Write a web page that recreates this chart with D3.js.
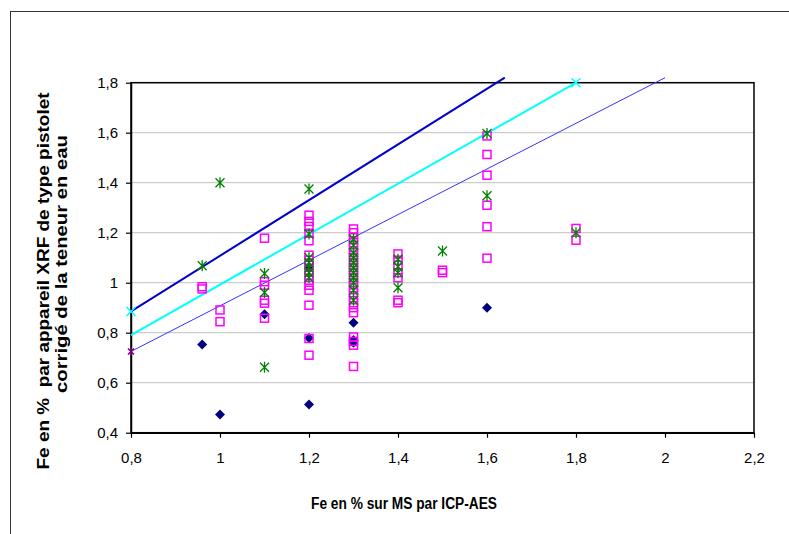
<!DOCTYPE html>
<html>
<head>
<meta charset="utf-8">
<script src="https://cdn.jsdelivr.net/npm/d3@7"></script>
<style>
    body { margin: 0; background: #fff; }
    svg { display: block; }
</style>
</head>
<body>
<div id="chart"></div>
<script>
// axis ticks
var xTicks = [0.8, 1, 1.2, 1.4, 1.6, 1.8, 2, 2.2];
var yTicks = [0.4, 0.6, 0.8, 1, 1.2, 1.4, 1.6, 1.8];

// navy diamonds
var diamondX = [0.96, 1.0, 1.1, 1.2, 1.2, 1.2, 1.3, 1.3, 1.3, 1.6];
var diamondY = [0.753, 0.473, 0.874, 0.779, 0.513, 1.06, 0.84, 0.771, 0.76, 0.90];

// magenta squares
var squareX = [0.96, 0.96, 1.0, 1.0,
    1.1, 1.1, 1.1, 1.1, 1.1, 1.1,
    1.2, 1.2, 1.2, 1.2, 1.2, 1.2, 1.2, 1.2, 1.2, 1.2, 1.2, 1.2, 1.2, 1.2, 1.2, 1.2,
    1.3, 1.3, 1.3, 1.3, 1.3, 1.3, 1.3, 1.3, 1.3, 1.3, 1.3, 1.3, 1.3, 1.3, 1.3, 1.3, 1.3, 1.3, 1.3, 1.3, 1.3, 1.3,
    1.4, 1.4, 1.4, 1.4, 1.4, 1.4, 1.4,
    1.5, 1.5,
    1.6, 1.6, 1.6, 1.6, 1.6, 1.6,
    1.8, 1.8];
var squareY = [0.984, 0.975, 0.891, 0.844,
    1.178, 1.004, 0.99, 0.93, 0.918, 0.858,
    1.27, 1.245, 1.225, 1.198, 1.168, 1.11, 1.09, 1.07, 1.05, 1.03, 1.01, 0.99, 0.97, 0.91, 0.777, 0.71,
    1.215, 1.20, 1.18, 1.16, 1.14, 1.12, 1.10, 1.08, 1.06, 1.04, 1.02, 1.00, 0.98, 0.96, 0.94, 0.92, 0.90, 0.88, 0.783, 0.765, 0.75, 0.665,
    1.115, 1.09, 1.07, 1.04, 1.02, 0.93, 0.92,
    1.05, 1.04,
    1.587, 1.513, 1.43, 1.31, 1.224, 1.098,
    1.217, 1.17];

// green asterisks
var starX = [0.96, 1.0, 1.1, 1.1, 1.1,
    1.2, 1.2, 1.2, 1.2, 1.2, 1.2, 1.2,
    1.3, 1.3, 1.3, 1.3, 1.3, 1.3, 1.3, 1.3, 1.3, 1.3, 1.3,
    1.4, 1.4, 1.4, 1.4,
    1.5, 1.6, 1.6, 1.8];
var starY = [1.068, 1.40, 1.037, 0.961, 0.662,
    1.375, 1.195, 1.10, 1.08, 1.06, 1.04, 1.02,
    1.175, 1.15, 1.12, 1.10, 1.08, 1.06, 1.04, 1.02, 1.00, 0.97, 0.93,
    1.094, 1.064, 1.04, 0.98,
    1.127, 1.597, 1.348, 1.20];

// reference lines
var upperX = [0.8, 1.64], upperY = [0.885, 1.82];
var diagX = [0.8, 1.8], diagY = [0.79, 1.8];
var lowerX = [0.8, 2.0], lowerY = [0.725, 1.82];
var crossX = [0.8, 1.8], crossY = [0.885, 1.8];
var purpleX = [0.8], purpleY = [0.725];

var width = 789, height = 534;
var plotLeft = 131, plotRight = 754, plotTop = 82.7, plotBottom = 432.7;

var svg = d3.select("#chart")
    .append("svg")
    .attr("width", width)
    .attr("height", height);

// chart frame (runs off the picture to the right and bottom)
svg.append("rect")
    .attr("x", 10.5)
    .attr("y", 11.5)
    .attr("width", 900)
    .attr("height", 700)
    .attr("fill", "none")
    .attr("stroke", "#333")
    .attr("stroke-width", 1);

var x = d3.scaleLinear().domain([0.8, 2.2]).range([plotLeft, plotRight]);
var y = d3.scaleLinear().domain([0.4, 1.8]).range([plotBottom, plotTop]);

var locale = d3.formatLocale({ decimal: ",", thousands: " ", grouping: [3], currency: ["", ""] });
var fmt = locale.format("~g");

// gridlines
svg.append("g")
    .selectAll("line")
    .data(yTicks.slice(1))
    .enter()
    .append("line")
    .attr("x1", plotLeft)
    .attr("x2", plotRight)
    .attr("y1", function (d) { return y(d); })
    .attr("y2", function (d) { return y(d); })
    .attr("stroke", "#c0c0c0")
    .attr("stroke-width", 1);

// plot border
svg.append("rect")
    .attr("x", plotLeft)
    .attr("y", plotTop)
    .attr("width", plotRight - plotLeft)
    .attr("height", plotBottom - plotTop)
    .attr("fill", "none")
    .attr("stroke", "#000")
    .attr("stroke-width", 1.5);

var xAxis = svg.append("g")
    .attr("transform", "translate(0," + plotBottom + ")")
    .call(d3.axisBottom(x).tickValues(xTicks).tickFormat(fmt).tickSize(5).tickSizeOuter(0).tickPadding(15));

var yAxis = svg.append("g")
    .attr("transform", "translate(" + plotLeft + ",0)")
    .call(d3.axisLeft(y).tickValues(yTicks).tickFormat(fmt).tickSize(5).tickSizeOuter(0).tickPadding(8));

[xAxis, yAxis].forEach(function (g) {
    g.select(".domain").attr("stroke", "#000").attr("stroke-width", 1.5);
    g.selectAll(".tick line").attr("stroke", "#000").attr("stroke-width", 1.2);
    g.selectAll(".tick text")
        .attr("fill", "#000")
        .attr("font-family", "Liberation Sans, Arial, sans-serif")
        .attr("font-size", 15);
});

// reference lines
function pairs(xs, ys) {
    return xs.map(function (v, i) { return [v, ys[i]]; });
}
var line = d3.line()
    .x(function (d) { return x(d[0]); })
    .y(function (d) { return y(d[1]); });

svg.append("path").datum(pairs(upperX, upperY))
    .attr("d", line).attr("fill", "none").attr("stroke", "#0000cc").attr("stroke-width", 2);
svg.append("path").datum(pairs(diagX, diagY))
    .attr("d", line).attr("fill", "none").attr("stroke", "#00ffff").attr("stroke-width", 2);
svg.append("path").datum(pairs(lowerX, lowerY))
    .attr("d", line).attr("fill", "none").attr("stroke", "#3333ff").attr("stroke-width", 1);

// marker shapes
function asterisk(s) {
    return "M" + (-s) + "," + (-s) + "L" + s + "," + s +
        "M" + (-s) + "," + s + "L" + s + "," + (-s) +
        "M0," + (-s - 1) + "L0," + (s + 1);
}
function cross(s) {
    return "M" + (-s) + "," + (-s) + "L" + s + "," + s +
        "M" + (-s) + "," + s + "L" + s + "," + (-s);
}
function diamond(s) {
    return "M0," + (-s) + "L" + s + ",0L0," + s + "L" + (-s) + ",0Z";
}

svg.append("g").selectAll("path")
    .data(pairs(diamondX, diamondY))
    .enter()
    .append("path")
    .attr("transform", function (d) { return "translate(" + x(d[0]) + "," + y(d[1]) + ")"; })
    .attr("d", diamond(5))
    .attr("fill", "#000080");

svg.append("g").selectAll("rect")
    .data(pairs(squareX, squareY))
    .enter()
    .append("rect")
    .attr("x", function (d) { return x(d[0]) - 4; })
    .attr("y", function (d) { return y(d[1]) - 4; })
    .attr("width", 8)
    .attr("height", 8)
    .attr("fill", "none")
    .attr("stroke", "#ff00ff")
    .attr("stroke-width", 1.5);

svg.append("g").selectAll("path")
    .data(pairs(starX, starY))
    .enter()
    .append("path")
    .attr("transform", function (d) { return "translate(" + x(d[0]) + "," + y(d[1]) + ")"; })
    .attr("d", asterisk(4.5))
    .attr("fill", "none")
    .attr("stroke", "#008000")
    .attr("stroke-width", 1.3);

svg.append("g").selectAll("path")
    .data(pairs(crossX, crossY))
    .enter()
    .append("path")
    .attr("transform", function (d) { return "translate(" + x(d[0]) + "," + y(d[1]) + ")"; })
    .attr("d", cross(4.5))
    .attr("fill", "none")
    .attr("stroke", "#00ffff")
    .attr("stroke-width", 1.5);

svg.append("g").selectAll("path")
    .data(pairs(purpleX, purpleY))
    .enter()
    .append("path")
    .attr("transform", function (d) { return "translate(" + x(d[0]) + "," + y(d[1]) + ")"; })
    .attr("d", asterisk(3))
    .attr("fill", "none")
    .attr("stroke", "#800080")
    .attr("stroke-width", 1.5);

// axis titles
svg.append("text")
    .attr("x", 404)
    .attr("y", 509)
    .attr("text-anchor", "middle")
    .attr("font-family", "Liberation Sans, Arial, sans-serif")
    .attr("font-weight", "bold")
    .attr("font-size", 16)
    .attr("textLength", 186)
    .attr("lengthAdjust", "spacingAndGlyphs")
    .text("Fe en % sur MS par ICP-AES");

var yTitle = [
    { text: "Fe en %  par appareil XRF de type pistolet", cx: 43, cy: 281, len: 377 },
    { text: "corrigé de la teneur en eau", cx: 61, cy: 264, len: 258 }
];
svg.append("g").selectAll("text")
    .data(yTitle)
    .enter()
    .append("text")
    .attr("transform", function (d) { return "translate(" + d.cx + "," + d.cy + ") rotate(-90)"; })
    .attr("dy", "0.35em")
    .attr("text-anchor", "middle")
    .attr("font-family", "Liberation Sans, Arial, sans-serif")
    .attr("font-weight", "bold")
    .attr("font-size", 16)
    .attr("textLength", function (d) { return d.len; })
    .attr("lengthAdjust", "spacingAndGlyphs")
    .style("white-space", "pre")
    .text(function (d) { return d.text; });
</script>
</body>
</html>
